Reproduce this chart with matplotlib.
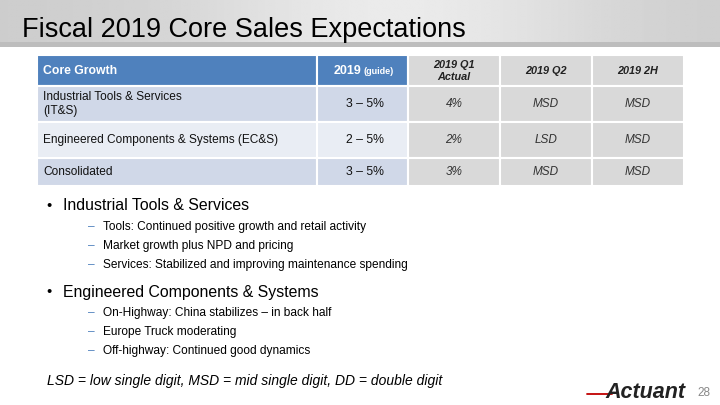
import matplotlib.pyplot as plt
import numpy as np
from matplotlib.patches import Rectangle

plt.rcParams['font.family'] = ['Liberation Sans', 'DejaVu Sans']

# table data
header = ['Core Growth', '2019', '2019 Q1\nActual', '2019 Q2', '2019 2H']
segments = ['Industrial Tools & Services\n(IT&S)', 'Engineered Components & Systems (EC&S)', 'Consolidated']
guide = ['3 – 5%', '2 – 5%', '3 – 5%']
q1_actual = ['4%', '2%', '3%']
q2 = ['MSD', 'LSD', 'MSD']
h2 = ['MSD', 'MSD', 'MSD']

its_points = ['Tools: Continued positive growth and retail activity',
              'Market growth plus NPD and pricing',
              'Services: Stabilized and improving maintenance spending']
ecs_points = ['On-Highway: China stabilizes – in back half',
              'Europe Truck moderating',
              'Off-highway: Continued good dynamics']

fig = plt.figure(figsize=(7.2, 4.05), dpi=100)
ax = fig.add_axes([0, 0, 1, 1])
ax.set_xlim(0, 720)
ax.set_ylim(405, 0)
ax.axis('off')

# header band
grad = np.linspace(0, 1, 300)
band = 0.80 + 0.12 * np.exp(-((grad - 0.55) / 0.3) ** 2)
img = np.tile(band, (20, 1))
ax.imshow(img, cmap='gray', vmin=0, vmax=1, extent=[0, 720, 44, 0], aspect='auto', zorder=0)
ax.add_patch(Rectangle((0, 42), 720, 5, color='#BDBDBD', zorder=1, lw=0))
ax.text(22, 37, 'Fiscal 2019 Core Sales Expectations', fontsize=19.5, color='black', zorder=2)

# table layout
col_x = [37, 317, 408, 500, 592, 684]
row_y = [55, 86, 122, 158, 186]
blue = '#4F81BD'
gray = '#D9D9D9'
light1 = '#D0D8E8'
light2 = '#E9EDF4'

cells = [[segments[i], guide[i], q1_actual[i], q2[i], h2[i]] for i in range(3)]
for r in range(4):
    for c in range(5):
        x0, x1 = col_x[c], col_x[c + 1]
        y0, y1 = row_y[r], row_y[r + 1]
        if r == 0:
            fc = blue if c < 2 else gray
        elif c < 2:
            fc = light2 if r == 2 else light1
        else:
            fc = gray
        ax.add_patch(Rectangle((x0, y0), x1 - x0, y1 - y0, facecolor=fc,
                               edgecolor='white', lw=1.5, zorder=2))
        yc = (y0 + y1) / 2
        if r == 0:
            if c == 0:
                ax.text(x0 + 6, yc, header[c], color='white', fontsize=8.8,
                        fontweight='bold', va='center', zorder=3)
            elif c == 1:
                ax.text(361, yc, header[c], color='white', fontsize=9,
                        fontweight='bold', va='center', ha='right', zorder=3)
                ax.text(363, yc + 1, '(guide)', color='white', fontsize=6.5,
                        fontweight='bold', va='center', ha='left', zorder=3)
            else:
                ax.text((x0 + x1) / 2, yc, header[c], color='#222222', fontsize=7.8,
                        fontweight='bold', style='italic', va='center', ha='center',
                        linespacing=1.25, zorder=3)
        else:
            val = cells[r - 1][c]
            if c == 0:
                ax.text(x0 + 6, yc, val, fontsize=8.6, va='center', color='#111111',
                        linespacing=1.3, zorder=3)
            elif c == 1:
                ax.text((x0 + x1) / 2 + 2, yc, val, fontsize=8.8, va='center', ha='center',
                        color='#111111', zorder=3)
            else:
                ax.text((x0 + x1) / 2, yc, val, fontsize=8.5, va='center', ha='center',
                        style='italic', color='#333333', zorder=3)

# bullets
def bullet_block(y, title, points):
    ax.text(46, y, '•', fontsize=10.5, va='center', color='black')
    ax.text(63, y, title, fontsize=11.4, va='center', color='black')
    for k, p in enumerate(points):
        yy = y + 21 + 19 * k
        ax.text(88, yy, '–', fontsize=8.6, va='center', color='#4F81BD')
        ax.text(103, yy, p, fontsize=8.6, va='center', color='black')

bullet_block(206, 'Industrial Tools & Services', its_points)
bullet_block(292, 'Engineered Components & Systems', ecs_points)

ax.text(47, 381, 'LSD = low single digit, MSD = mid single digit, DD = double digit',
        fontsize=10, style='italic', va='center', color='black')

# logo and page number
ax.plot([587, 612], [393.5, 393.5], color='#C00000', lw=1.3, solid_capstyle='round')
ax.text(605, 393, 'Actuant', fontsize=15.5, fontweight='bold', style='italic',
        va='center', color='#222222')
ax.text(697, 393, '28', fontsize=8.5, va='center', color='#888888')

fig.savefig('out.png', dpi=100)
